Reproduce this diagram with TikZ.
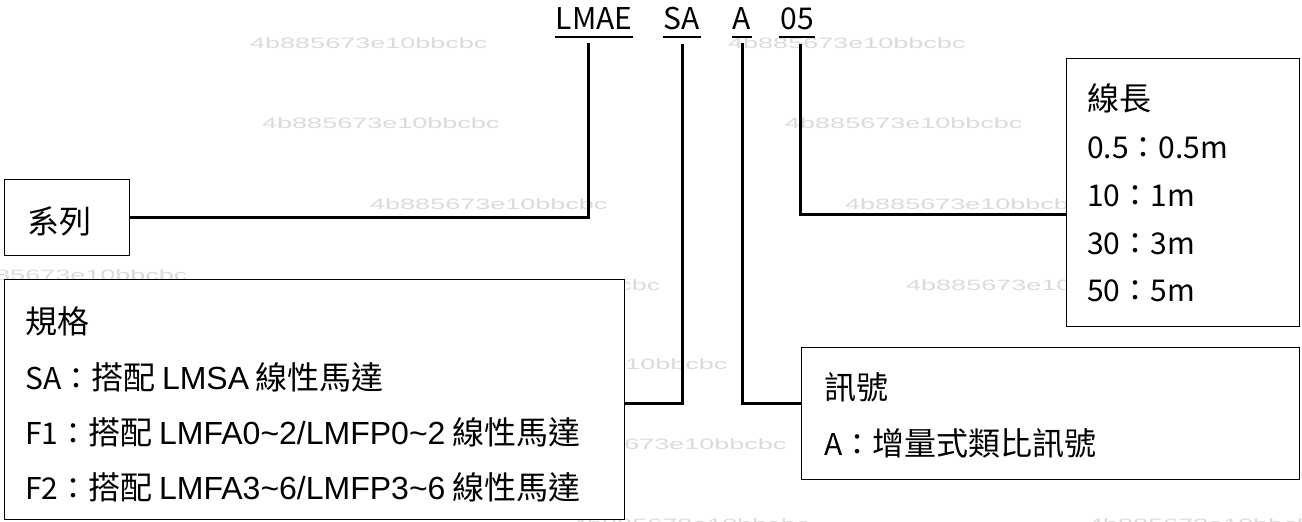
\documentclass[tikz,border=0pt]{standalone}
\usepackage{fontspec}
\setmainfont{Noto Sans CJK TC}
\newfontfamily\arialf{Liberation Sans}
\newfontfamily\wmfont[FakeStretch=1.8]{Liberation Sans}
\newcommand\zhc[1]{{\fontsize{32}{36}\selectfont #1}}
\newcommand\arc[1]{{\arialf\fontsize{32}{36}\selectfont #1}}
\begin{document}
\begin{tikzpicture}[x=1pt,y=-1pt,
  lbl/.style={inner sep=0pt, anchor=base, font=\fontsize{30}{30}\selectfont},
  boxnode/.style={draw, line width=1.4pt, fill=white, inner sep=0pt, anchor=north west},
  txt/.style={inner sep=0pt, anchor=west, font=\fontsize{30}{36}\selectfont},
  conn/.style={line width=3pt},
  uline/.style={line width=2pt},
  wm/.style={inner sep=0pt, anchor=west, text=black!14, font=\wmfont\fontsize{15}{15}\selectfont}]
\useasboundingbox (0,0) rectangle (1302,522);
\fill[white] (0,0) rectangle (1302,522);
% watermarks
\foreach \i/\x/\y in {1/250/43, 2/728/43, 3/262/123, 4/785/123, 5/370/204, 6/845/204, 7/-50/275, 8/423/285, 9/906/285, 10/490/364, 11/549/444, 12/572/524, 13/1088/524}
  \node[wm] (wm\i) at (\x,\y) {4b885673e10bbcbc};
% header
\node[lbl] (lmae) at (594,30) {LMAE};
\node[lbl] (sa) at (682,30) {SA};
\node[lbl] (a) at (742,30) {A};
\node[lbl] (n05) at (797,30) {05};
\foreach \n in {lmae,sa,a,n05}
  \draw[uline] ([xshift=-1pt,yshift=-7pt]\n.base west) -- ([xshift=1pt,yshift=-7pt]\n.base east);
% boxes
\node[boxnode, minimum width=125pt, minimum height=76pt] (xilie) at (4,179) {};
\node[boxnode, minimum width=620pt, minimum height=240pt] (guige) at (4,279) {};
\node[boxnode, minimum width=233pt, minimum height=268pt] (xianchang) at (1066,58) {};
\node[boxnode, minimum width=498pt, minimum height=132pt] (xinhao) at (801,347) {};
% connectors
\draw[conn] ([xshift=-6pt,yshift=-13pt]lmae.south) |- (xilie.east);
\draw[conn] ([yshift=-13pt]sa.south) |- ([yshift=-4pt]guige.east);
\draw[conn] ([yshift=-13pt]a.south) |- ([yshift=10pt]xinhao.west);
\draw[conn] ([xshift=3pt,yshift=-13pt]n05.south) |- ([yshift=-22pt]xianchang.west);
% texts
\node[txt] (t1) at (27,221) {\zhc{系列}};
\node[txt] (g1) at (25,321) {\zhc{規格}};
\node[txt] (g2) at (25,377) {SA：\zhc{搭配} \arc{LMSA} \zhc{線性馬達}};
\node[txt] (g3) at (25,432) {F1：\zhc{搭配} \arc{LMFA0\textasciitilde 2/LMFP0\textasciitilde 2} \zhc{線性馬達}};
\node[txt] (g4) at (25,487) {F2：\zhc{搭配} \arc{LMFA3\textasciitilde 6/LMFP3\textasciitilde 6} \zhc{線性馬達}};
\node[txt] (c1) at (1087,98) {\zhc{線長}};
\node[txt] (c2) at (1087,148) {0.5：0.5m};
\node[txt] (c3) at (1087,196) {10：1m};
\node[txt] (c4) at (1087,244) {30：3m};
\node[txt] (c5) at (1087,291) {50：5m};
\node[txt] (s1) at (824,387) {\zhc{訊號}};
\node[txt] (s2) at (824,443) {A：\zhc{增量式類比訊號}};
\end{tikzpicture}
\end{document}
